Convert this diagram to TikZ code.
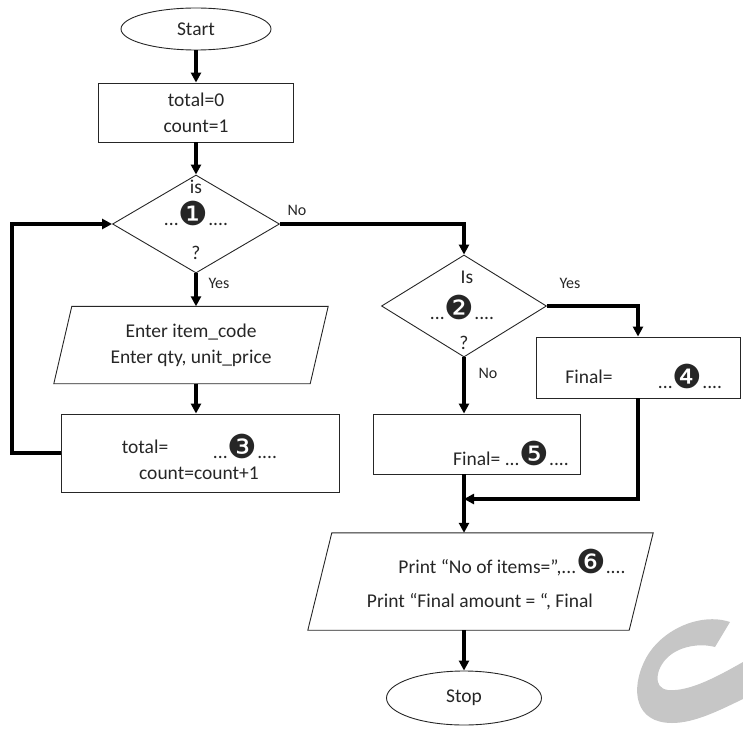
\documentclass[tikz,border=0pt]{standalone}
\usepackage{fontspec}
\setmainfont{Carlito}
\newfontfamily\dingfont{DejaVu Sans}
\usetikzlibrary{shapes.geometric,arrows.meta}
\newcommand\cnum[1]{{\dingfont\fontsize{33}{33}\selectfont #1}}
\begin{document}
\begin{tikzpicture}[x=1pt,y=-1pt,
  font=\fontsize{19.5}{26}\selectfont,
  every node/.style={text=black!85},
  outline/.style={draw=black!85,line width=0.9pt},
  box/.style={outline,rectangle,inner sep=0pt},
  term/.style={outline,ellipse,inner sep=0pt},
  dec/.style={outline,diamond,inner sep=0pt},
  io/.style={rectangle,inner sep=0pt},
  conn/.style={line width=3.2pt,-{Triangle[length=10pt,width=10pt]}},
  lbl/.style={font=\fontsize{16}{16}\selectfont}]
  \useasboundingbox (0,0) rectangle (743,730);
  \fill[gray!45] (730,622) .. controls (700,612) and (660,630) .. (645,660)
    .. controls (630,690) and (635,723) .. (672,723)
    .. controls (695,723) and (720,710) .. (743,699) -- (743,662)
    .. controls (720,675) and (690,692) .. (668,690)
    .. controls (652,688) and (656,668) .. (668,657)
    .. controls (680,646) and (700,643) .. (715,647) -- cycle;

  \node[term,minimum width=150pt,minimum height=42pt] (start) at (196,29) {Start};
  \node[box,minimum width=195pt,minimum height=59pt,align=center] (init) at (196,112.5) {total=0\\count=1};
  \node[dec,minimum width=167pt,minimum height=98pt] (dec1) at (196,224) {};
  \node (dec1a) at (196,187) {is};
  \node (dec1b) at (196,213) {...\cnum{❶}....};
  \node (dec1c) at (196,253) {?};
  \node[io,minimum width=274pt,minimum height=77pt,align=center] (in1) at (191,345) {Enter item\_code\\Enter qty, unit\_price};
  \draw[outline] ([xshift=18pt]in1.north west) -- (in1.north east)
    -- ([xshift=-18pt]in1.south east) -- (in1.south west) -- cycle;
  \node[box,minimum width=278pt,minimum height=78pt] (upd) at (200,453) {};
  \node (upda) at (145,447) {total=};
  \node (updb) at (245,446) {...\cnum{❸}....};
  \node (updc) at (199,473) {count=count+1};

  \node[dec,minimum width=165pt,minimum height=102pt] (dec2) at (464,306) {};
  \node (dec2a) at (467,277) {Is};
  \node (dec2b) at (462,307) {...\cnum{❷}....};
  \node (dec2c) at (464,343) {?};
  \node[box,minimum width=204pt,minimum height=61pt] (fin4) at (638,367.5) {};
  \node (fin4a) at (589,377) {Final=};
  \node (fin4b) at (690,376) {...\cnum{❹}....};
  \node[box,minimum width=207pt,minimum height=60pt] (fin5) at (476.5,444) {};
  \node (fin5a) at (511,453) {Final= ...\cnum{❺}....};
  \node[io,minimum width=345pt,minimum height=97pt] (out) at (480.5,581.5) {};
  \draw[outline] ([xshift=24pt]out.north west) -- (out.north east)
    -- ([xshift=-24pt]out.south east) -- (out.south west) -- cycle;
  \node (outa) at (512,563) {Print “No of items=”,...\cnum{❻}....};
  \node (outb) at (480,602) {Print “Final amount = “, Final};
  \node[term,minimum width=155pt,minimum height=54pt] (stop) at (464,698) {Stop};

  \node[lbl] (no1) at (297,210) {No};
  \node[lbl] (yes1) at (219,283) {Yes};
  \node[lbl] (yes2) at (570,283) {Yes};
  \node[lbl] (no2) at (488,373) {No};

  \coordinate (loop) at (12,453);
  \coordinate (merge) at (464,499);
  \draw[conn] (start.south) -- (init.north);
  \draw[conn] (init.south) -- (dec1.north);
  \draw[conn] (dec1.south) -- (dec1.south |- in1.north);
  \draw[conn] (dec1.south |- in1.south) -- (dec1.south |- upd.north);
  \draw[conn] (upd.west) -- (loop) |- (dec1.west);
  \draw[conn] (dec1.east) -| (dec2.north);
  \draw[conn] (dec2.east) -| (fin4.north);
  \draw[conn] (dec2.south) -- (dec2.south |- fin5.north);
  \draw[line width=3.2pt] (dec2.south |- fin5.south) -- (merge);
  \draw[conn] (fin4.south) |- (merge);
  \draw[conn] (merge) -- (merge |- out.north);
  \draw[conn] (merge |- out.south) -- (stop.north);
\end{tikzpicture}
\end{document}
